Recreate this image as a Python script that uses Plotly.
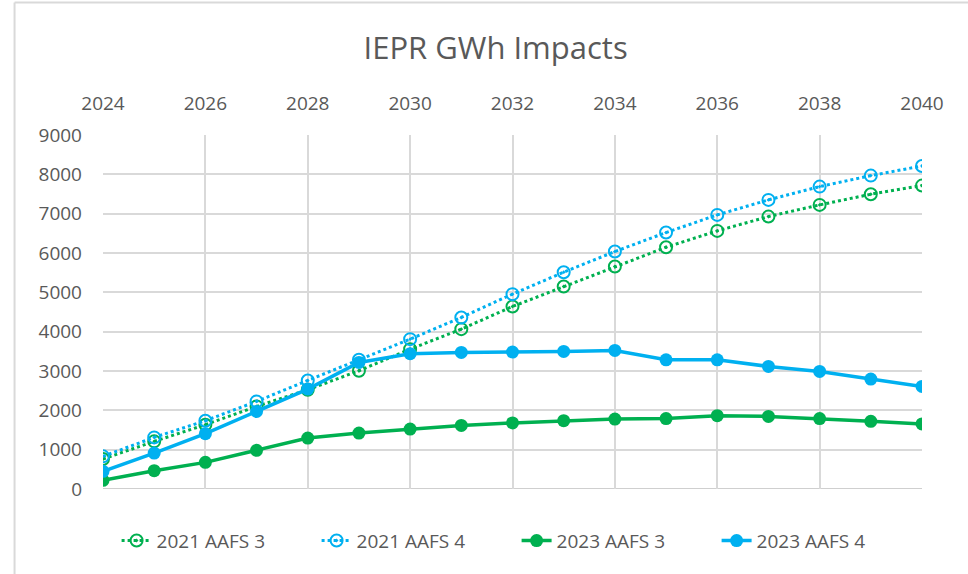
import plotly.graph_objects as go

years = list(range(2024, 2041))
aafs3_2021 = [762, 1211, 1634, 2100, 2523, 3006, 3556, 4064, 4640, 5148, 5656, 6147, 6562, 6926, 7223, 7494, 7714]
aafs4_2021 = [830, 1312, 1736, 2227, 2760, 3285, 3810, 4361, 4954, 5512, 6037, 6520, 6969, 7350, 7688, 7968, 8213]
aafs3_2023 = [220, 466, 677, 982, 1295, 1422, 1524, 1617, 1680, 1736, 1778, 1790, 1863, 1846, 1790, 1720, 1655]
aafs4_2023 = [449, 914, 1406, 1973, 2540, 3218, 3440, 3472, 3480, 3497, 3522, 3285, 3285, 3116, 2989, 2794, 2608]
x_ticks = list(range(2024, 2041, 2))
y_ticks = list(range(0, 9001, 1000))

GREEN = "#00B050"
BLUE = "#00B0F0"
FONT = "'Open Sans', 'Noto Sans', sans-serif"
GREY = "#595959"

fig = go.Figure()
fig.add_trace(go.Scatter(x=years, y=aafs3_2021, name="2021 AAFS 3", mode="lines+markers",
                         line=dict(color=GREEN, width=3, dash="dot"),
                         marker=dict(symbol="circle-open-dot", size=12, color=GREEN, line=dict(width=2, color=GREEN))))
fig.add_trace(go.Scatter(x=years, y=aafs4_2021, name="2021 AAFS 4", mode="lines+markers",
                         line=dict(color=BLUE, width=3, dash="dot"),
                         marker=dict(symbol="circle-open-dot", size=12, color=BLUE, line=dict(width=2, color=BLUE))))
fig.add_trace(go.Scatter(x=years, y=aafs3_2023, name="2023 AAFS 3", mode="lines+markers",
                         line=dict(color=GREEN, width=3.5),
                         marker=dict(symbol="circle", size=13, color=GREEN)))
fig.add_trace(go.Scatter(x=years, y=aafs4_2023, name="2023 AAFS 4", mode="lines+markers",
                         line=dict(color=BLUE, width=3.5),
                         marker=dict(symbol="circle", size=13, color=BLUE)))

fig.update_layout(
    width=968, height=574,
    margin=dict(l=103, r=46, t=135, b=85, autoexpand=False),
    paper_bgcolor="white", plot_bgcolor="white",
    font=dict(family=FONT, color=GREY, size=19),
    title=dict(text="IEPR GWh Impacts", x=0.512, xanchor="center", y=0.916, yanchor="middle",
               font=dict(family=FONT, size=31, color=GREY)),
    xaxis=dict(side="top", range=[2024, 2040], tickvals=x_ticks, ticktext=[str(v) for v in x_ticks],
               showgrid=True, gridcolor="#D9D9D9", gridwidth=1.5, zeroline=False,
               showline=False, ticks="", ticklabelstandoff=20, tickfont=dict(size=19, color=GREY)),
    yaxis=dict(range=[0, 9000], tickvals=y_ticks, showgrid=True, gridcolor="#D9D9D9", gridwidth=1.5,
               zeroline=False, showline=False, ticks="", ticklabelstandoff=20,
               tickfont=dict(size=19, color=GREY)),
    legend=dict(orientation="h", x=0.505, xanchor="center", y=-0.146, yanchor="middle",
                font=dict(size=19, color=GREY), entrywidth=155, traceorder="normal"),
    showlegend=True,
)

# bottom axis line at zero (slightly darker)
fig.add_shape(type="line", xref="paper", yref="y", x0=0, x1=1, y0=0, y1=0,
              line=dict(color="#BFBFBF", width=1.5), layer="below")
# chart outer border (top and left)
fig.add_shape(type="line", xref="paper", yref="paper", x0=-0.108, x1=1.06, y0=1.374, y1=1.374,
              line=dict(color="#D9D9D9", width=2))
fig.add_shape(type="line", xref="paper", yref="paper", x0=-0.108, x1=-0.108, y0=1.374, y1=-0.24,
              line=dict(color="#D9D9D9", width=2))

fig.write_html("out.html", config={"displayModeBar": False},
               post_script="document.body.style.margin='0';")
